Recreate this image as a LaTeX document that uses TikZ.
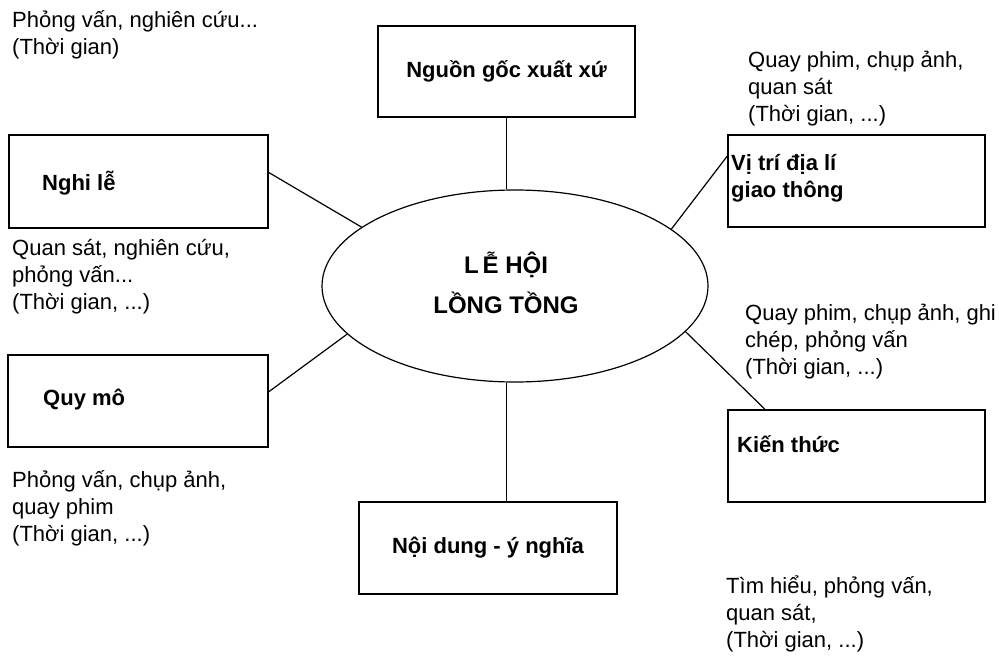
\documentclass[tikz,border=0pt]{standalone}
\usepackage{fontspec}
\setmainfont{Liberation Sans}
\usetikzlibrary{shapes.geometric}
\newcommand{\mlines}[1]{\begin{tabular}[t]{@{}l@{}}#1\end{tabular}}
\begin{document}
\begin{tikzpicture}[x=1pt,y=-1pt,
  boxnode/.style={draw, line width=1.2pt, rectangle, inner sep=0pt, font=\fontsize{22}{27}\selectfont\bfseries},
  note/.style={anchor=base west, inner sep=0pt, font=\fontsize{22}{27}\selectfont},
  btxt/.style={anchor=base west, inner sep=0pt, font=\fontsize{22}{27}\selectfont\bfseries},
  link/.style={line width=1.2pt}]
\useasboundingbox[fill=white] (0,0) rectangle (999,661);

% central ellipse
\node[ellipse, draw, line width=1.2pt, minimum width=386, minimum height=192, inner sep=0pt] (e) at (515,286) {};
\node[inner sep=0pt, font=\fontsize{24}{30}\selectfont\bfseries] (et) at (506,287)
  {\begin{tabular}{@{}c@{}}L\,Ễ HỘI\\[10pt] LỒNG TỒNG\end{tabular}};

% boxes
\node[boxnode, minimum width=257, minimum height=91] (ng) at (506.5,71.5) {Nguồn gốc xuất xứ};
\node[boxnode, minimum width=259, minimum height=93] (nl) at (138.5,181.5) {};
\node[boxnode, minimum width=260, minimum height=92] (qm) at (138,401) {};
\node[boxnode, minimum width=257, minimum height=92] (vt) at (856.5,181) {};
\node[boxnode, minimum width=257, minimum height=92] (kt) at (856.5,456) {};
\node[boxnode, minimum width=258, minimum height=92] (nd) at (488,548) {Nội dung - ý nghĩa};

% box texts
\node[btxt] (nlt) at (42,190) {Nghi lễ};
\node[btxt] (qmt) at (43,405) {Quy mô};
\node[btxt] (vtt) at (731,170) {\mlines{Vị trí địa lí\\giao thông}};
\node[btxt] (ktt) at (737,452) {Kiến thức};

% notes
\node[note] (n1) at (12,28) {\mlines{Phỏng vấn, nghiên cứu...\\(Thời gian)}};
\node[note] (n2) at (748,68) {\mlines{Quay phim, chụp ảnh,\\quan sát\\(Thời gian, ...)}};
\node[note] (n3) at (12,255) {\mlines{Quan sát, nghiên cứu,\\phỏng vấn...\\(Thời gian, ...)}};
\node[note] (n4) at (745,320) {\mlines{Quay phim, chụp ảnh, ghi\\chép, phỏng vấn\\(Thời gian, ...)}};
\node[note] (n5) at (12,487) {\mlines{Phỏng vấn, chụp ảnh,\\quay phim\\(Thời gian, ...)}};
\node[note] (n6) at (726,593) {\mlines{Tìm hiểu, phỏng vấn,\\quan sát,\\(Thời gian, ...)}};

% connectors
\draw[link] (ng.south) -- (ng.south |- e.north);
\draw[link] (nl.4) -- (e.159);
\draw[link] (qm.4) -- (e.196);
\draw[link] (vt.169) -- (e.20);
\draw[link] (kt.153) -- (e.-15);
\draw[link] (e.265) -- (e.265 |- nd.north);
\end{tikzpicture}
\end{document}
